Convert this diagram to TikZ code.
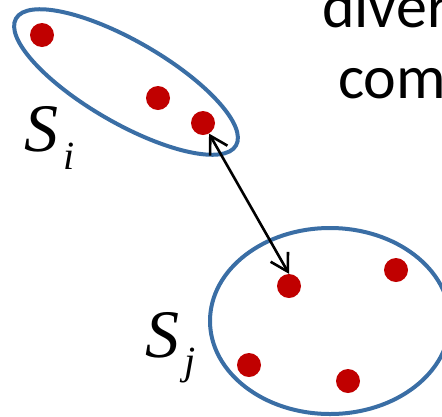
\documentclass[tikz,border=0pt]{standalone}
\usepackage{fontspec}
\setmainfont{Liberation Serif}
\newfontfamily\calibfont{Carlito}
\usetikzlibrary{positioning,shapes.geometric,arrows.meta}
\definecolor{setblue}{HTML}{3A6EA5}
\definecolor{ptred}{HTML}{C00000}

\begin{document}
\begin{tikzpicture}[x=1pt, y=-1pt,
    pt/.style={circle, fill=ptred, minimum size=24pt, inner sep=0pt},
    setline/.style={ellipse, draw=setblue, line width=4pt, inner sep=0pt},
    lbl/.style={anchor=base west, inner sep=0pt, font=\fontsize{68}{68}\selectfont\itshape},
    word/.style={anchor=base west, inner sep=0pt, font=\calibfont\fontsize{62}{62}\selectfont},
    link/.style={<->, >={Straight Barb[length=17pt,width=20pt]}, line width=2.6pt}]
    \useasboundingbox (0,0) rectangle (442,416);

    % set S_i
    \node[setline, minimum width=254pt, minimum height=82pt, rotate=-30] (seti) at (126,82) {};
    \node[pt] (i1) at (42,35) {};
    \node[pt] (i2) at (158,98) {};
    \node[pt] (i3) at (203,123) {};
    \node[lbl] (labi) at (24,151) {S\hspace{5pt}\raisebox{-18pt}{\fontsize{40}{40}\selectfont i}};

    % set S_j
    \node[setline, minimum width=240pt, minimum height=186pt] (setj) at (330,321) {};
    \node[pt] (j1) at (289,286) {};
    \node[pt] (j2) at (396,270) {};
    \node[pt] (j3) at (249,365) {};
    \node[pt] (j4) at (348,381) {};
    \node[lbl] (labj) at (145,357) {S\hspace{5pt}\raisebox{-17pt}{\fontsize{40}{40}\selectfont j}};

    % distance between the two sets
    \draw[link] (i3) -- (j1.north);

    % text cut off at the edge
    \node[word] (w1) at (322,27) {diver};
    \node[word] (w2) at (338,98) {com};
\end{tikzpicture}
\end{document}
